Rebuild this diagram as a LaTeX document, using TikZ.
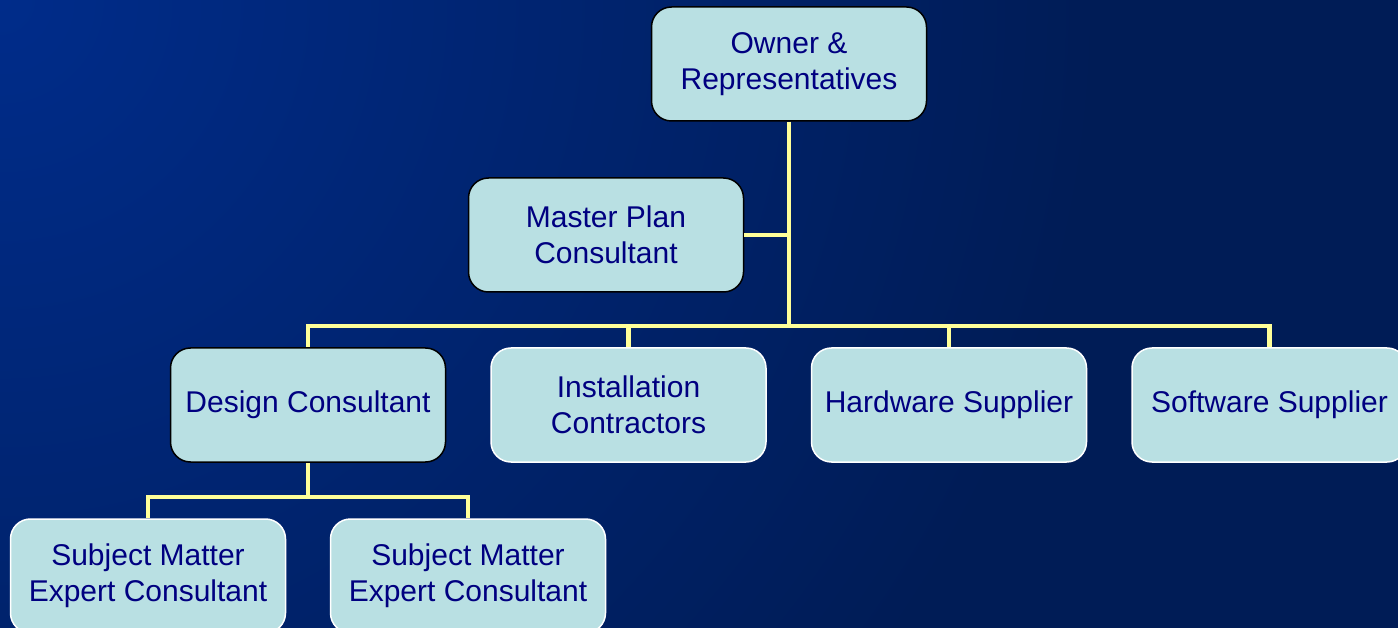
\documentclass[tikz,border=0pt]{standalone}
\usepackage{fontspec}
\setmainfont{Liberation Sans}
\usetikzlibrary{positioning}

\definecolor{bglight}{RGB}{0,44,138}
\definecolor{bgdark}{RGB}{0,28,86}
\definecolor{boxfill}{RGB}{185,224,227}
\definecolor{boxtext}{RGB}{0,0,128}
\definecolor{linkyellow}{RGB}{255,255,153}

\begin{document}
\begin{tikzpicture}[
	x=1pt, y=-1pt
	,box/.style={draw=white, line width=1.5pt, fill=boxfill, rounded corners=20pt,
		minimum width=275pt, minimum height=114pt, inner sep=0pt,
		align=center, text=boxtext, font=\fontsize{30}{36}\selectfont}
	,lead/.style={box, draw=black}
	,link/.style={draw=linkyellow, line width=4.5pt}
	,node distance=44pt
]
	% page and background
	\useasboundingbox (0,0) rectangle (1398,628);
	\clip (0,0) rectangle (1398,628);
	\fill[bgdark] (0,0) rectangle (1398,628);
	\shade[inner color=bglight, outer color=bgdark] (0,0) circle (1100);

	\node[lead] (owner) at (789,64) {Owner \&\\Representatives};
	\node[lead] (master) at (606,235) {Master Plan\\Consultant};
	\node[lead] (design) at (308,405) {Design Consultant};
	\node[box, right=of design] (install) {Installation\\Contractors};
	\node[box, right=of install] (hardware) {Hardware Supplier};
	\node[box, right=of hardware] (software) {Software Supplier};
	\node[box] (sme1) at (148,576) {Subject Matter\\Expert Consultant};
	\node[box] (sme2) at (468,576) {Subject Matter\\Expert Consultant};

	% reporting lines
	\coordinate (bus) at (0,326);
	\coordinate (subbus) at (0,497);
	\draw[link] (owner.south) -- (owner.south |- bus);
	\draw[link] (master.east) -- (master.east -| owner.south);
	\draw[link] (design.north) |- (software.north |- bus) -- (software.north);
	\draw[link] (install.north) -- (install.north |- bus);
	\draw[link] (hardware.north) -- (hardware.north |- bus);
	\draw[link] (design.south) -- (design.south |- subbus);
	\draw[link] (sme1.north) |- (sme2.north |- subbus) -- (sme2.north);
\end{tikzpicture}
\end{document}
